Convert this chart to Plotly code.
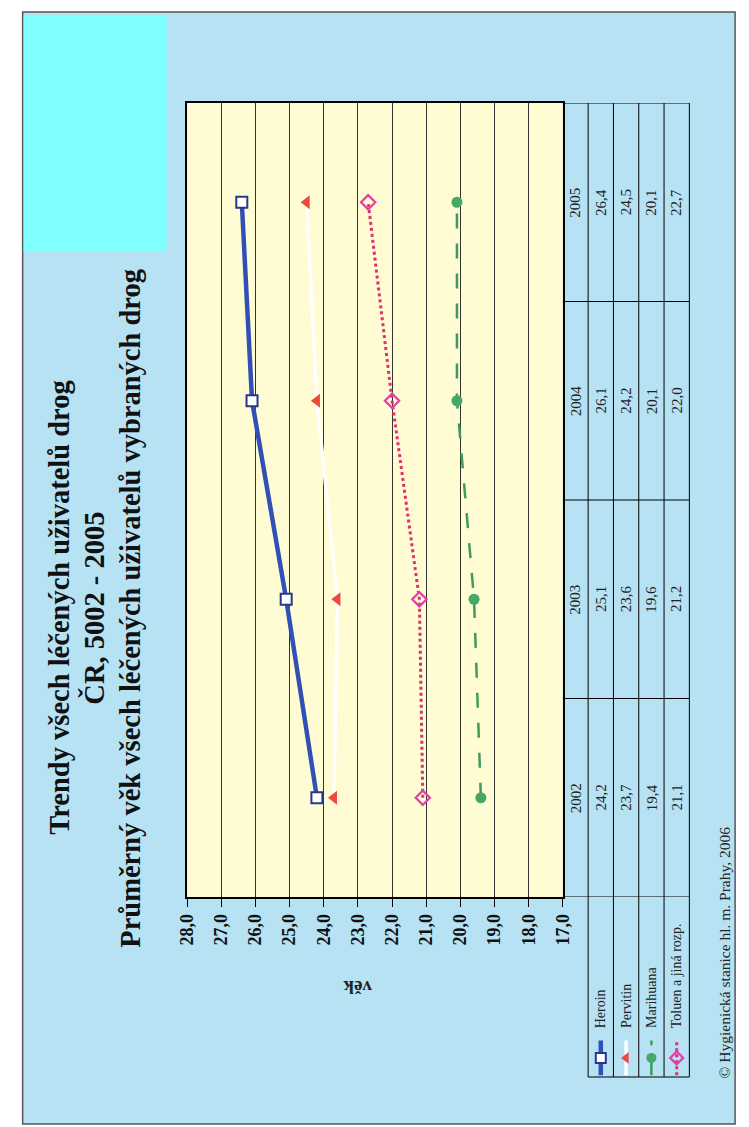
import plotly.graph_objects as go

# ---------------- data ----------------
years = ["2002", "2003", "2004", "2005"]
heroin = [24.2, 25.1, 26.1, 26.4]
pervitin = [23.7, 23.6, 24.2, 24.5]
marihuana = [19.4, 19.6, 20.1, 20.1]
toluen = [21.1, 21.2, 22.0, 22.7]
series_names = ["Heroin", "Pervitin", "Marihuana", "Toluen a jiná rozp."]
x_ticks = [17, 18, 19, 20, 21, 22, 23, 24, 25, 26, 27, 28]
title_lines = [
    "Trendy všech léčených uživatelů drog",
    "ČR, 5002 - 2005",
    "Průměrný věk všech léčených uživatelů vybraných drog",
]
axis_title = "věk"
footer = "© Hygienická stanice hl. m. Prahy, 2006"

# ---------------- geometry helpers ----------------
W, H = 749, 1127
def px(x):
    return x / W
def py(y):
    return 1 - y / H

PAGE = "#b6e2f4"
CYAN = "#80ffff"
YELLOW = "#fffbd2"
SERIF = "Liberation Serif"

styles = [
    dict(line=dict(color="#3050b8", width=4.5),
         marker=dict(symbol="square", size=11, color="white",
                     line=dict(color="#25388a", width=2))),
    dict(line=dict(color="white", width=3.5),
         marker=dict(symbol="triangle-left", size=12, color="#ec4a3c",
                     line=dict(color="#ec4a3c", width=0))),
    dict(line=dict(color="#3f9a5e", width=2.5, dash="longdash"),
         marker=dict(symbol="circle", size=11, color="#45a866",
                     line=dict(color="#45a866", width=0))),
    dict(line=dict(color="#e0306e", width=3, dash="dot"),
         marker=dict(symbol="diamond-open", size=11, color="#e040a8",
                     line=dict(color="#e040a8", width=2.2))),
]
all_vals = [heroin, pervitin, marihuana, toluen]
yidx = list(range(len(years)))

fig = go.Figure()
for name, vals, st in zip(series_names, all_vals, styles):
    fig.add_trace(go.Scatter(x=vals, y=yidx, mode="lines+markers", name=name,
                             line=st["line"], marker=st["marker"],
                             showlegend=False, xaxis="x", yaxis="y"))

# legend symbols drawn on a hidden axis in the legend box
for i, (name, st) in enumerate(zip(series_names, styles)):
    fig.add_trace(go.Scatter(x=[i + 0.5, i + 0.5], y=[0.01, 0.2], mode="lines",
                             line=st["line"], showlegend=False,
                             xaxis="x2", yaxis="y2", hoverinfo="skip"))
    fig.add_trace(go.Scatter(x=[i + 0.5], y=[0.105], mode="markers",
                             marker=dict(st["marker"], size=10),
                             showlegend=False, xaxis="x2", yaxis="y2",
                             hoverinfo="skip"))

shapes = []
# page background and cyan block
shapes.append(dict(type="rect", xref="paper", yref="paper", x0=px(13), x1=px(745),
                   y0=py(1124), y1=py(12), fillcolor=PAGE,
                   line=dict(color="#555555", width=1.5), layer="below"))
shapes.append(dict(type="rect", xref="paper", yref="paper", x0=px(14), x1=px(161),
                   y0=py(252), y1=py(16), fillcolor=CYAN, line=dict(width=0),
                   layer="below"))
# plot area fill
shapes.append(dict(type="rect", xref="paper", yref="paper", x0=px(182), x1=px(568),
                   y0=py(897), y1=py(103), fillcolor=YELLOW, line=dict(width=0),
                   layer="below"))

# data table grid
col_edges = [568, 594, 620, 646, 672, 698]
for k in range(len(years) + 1):
    yy = k - 0.5
    shapes.append(dict(type="line", xref="paper", yref="y", x0=px(568), x1=px(698),
                       y0=yy, y1=yy, line=dict(color="black", width=1)))
for ce in col_edges[1:]:
    shapes.append(dict(type="line", xref="paper", yref="paper", x0=px(ce), x1=px(ce),
                       y0=py(1077), y1=py(103), line=dict(color="black", width=1)))
shapes.append(dict(type="line", xref="paper", yref="paper", x0=px(594), x1=px(698),
                   y0=py(1077), y1=py(1077), line=dict(color="black", width=1)))

annotations = []
# title lines
for xc, txt in zip([50, 86, 123], title_lines):
    annotations.append(dict(text=txt, xref="paper", yref="paper", x=px(xc), y=py(608),
                            showarrow=False, textangle=-90, xanchor="center",
                            yanchor="middle",
                            font=dict(family=SERIF, size=28.5, color="#111111",
                                      weight="bold")))
# axis title (upside down)
annotations.append(dict(text=axis_title, xref="paper", yref="paper", x=px(357),
                        y=py(988), showarrow=False, textangle=180,
                        xanchor="center", yanchor="middle",
                        font=dict(family=SERIF, size=19, color="#222222",
                                  weight="bold")))
# table cells
col_centers = [(a + b) / 2 for a, b in zip(col_edges[:-1], col_edges[1:])]
for j, yr in enumerate(years):
    annotations.append(dict(text=yr, xref="paper", yref="y", x=px(col_centers[0]),
                            y=j, showarrow=False, textangle=-90,
                            xanchor="center", yanchor="middle",
                            font=dict(family=SERIF, size=15, color="#222222")))
    for s, vals in enumerate(all_vals):
        annotations.append(dict(text=f"{vals[j]:.1f}".replace(".", ","),
                                xref="paper", yref="y", x=px(col_centers[s + 1]),
                                y=j, showarrow=False, textangle=-90,
                                xanchor="center", yanchor="middle",
                                font=dict(family=SERIF, size=15, color="#222222")))
# legend labels
for s, name in enumerate(series_names):
    annotations.append(dict(text=name, xref="paper", yref="paper",
                            x=px(col_centers[s + 1]), y=py(1030), showarrow=False,
                            textangle=-90, xanchor="center", yanchor="bottom",
                            font=dict(family=SERIF, size=14, color="#222222")))
# footer
annotations.append(dict(text=footer, xref="paper", yref="paper", x=px(734),
                        y=py(1080), showarrow=False, textangle=-90,
                        xanchor="center", yanchor="bottom",
                        font=dict(family=SERIF, size=15.5, color="#222222")))

fig.update_layout(
    width=W, height=H,
    margin=dict(l=0, r=0, t=0, b=0),
    paper_bgcolor="white",
    plot_bgcolor="rgba(0,0,0,0)",
    separators=", ",
    showlegend=False,
    xaxis=dict(domain=[px(182), px(568)], range=[28, 17], tickmode="array",
               tickvals=x_ticks, tickformat=".1f", tickangle=-90,
               ticks="outside", ticklen=8, tickcolor="black",
               showgrid=True, gridcolor="#333333", gridwidth=1.2,
               showline=True, linecolor="black", linewidth=1.5, mirror=True,
               zeroline=False, anchor="y",
               tickfont=dict(family=SERIF, size=18, color="#111111", weight="bold")),
    yaxis=dict(domain=[py(897), py(103)], range=[-0.5, 3.5], showticklabels=False,
               showgrid=False, zeroline=False, showline=True, linecolor="black",
               linewidth=1.5, mirror=True, ticks="", anchor="x"),
    xaxis2=dict(domain=[px(594), px(698)], range=[0, 4], visible=False,
                anchor="y2", fixedrange=True),
    yaxis2=dict(domain=[py(1077), py(895)], range=[0, 1], visible=False,
                anchor="x2", fixedrange=True),
    shapes=shapes,
    annotations=annotations,
)

fig.write_html("out.html")
